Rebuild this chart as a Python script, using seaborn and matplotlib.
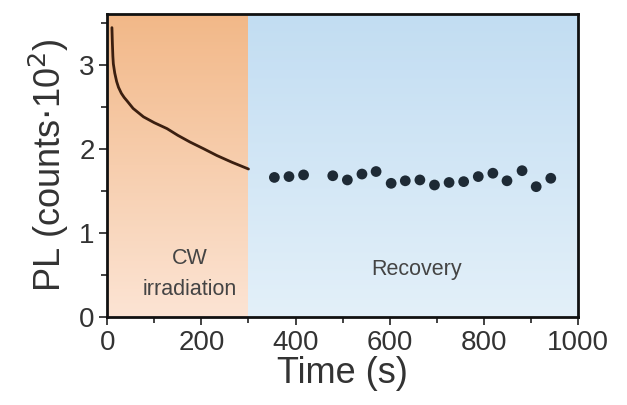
import numpy as np
import pandas as pd
import matplotlib
matplotlib.use("Agg")
import matplotlib.pyplot as plt
from matplotlib.colors import LinearSegmentedColormap
from matplotlib.ticker import MultipleLocator
import seaborn as sns

# PL decay under CW irradiation (counts / 100)
irr_time = [10, 11, 12, 13, 16, 20, 24, 30, 36, 42, 55, 77, 100, 127, 150, 176, 205, 233, 265, 300]
irr_pl = [3.44, 3.25, 3.10, 3.01, 2.90, 2.80, 2.73, 2.66, 2.61, 2.57, 2.48, 2.38, 2.31, 2.24, 2.16, 2.08, 2.00, 1.92, 1.84, 1.76]

# recovery points in the dark
rec_time = [355, 386, 417, 479, 510, 541, 571, 603, 633, 664, 695, 726, 757, 788, 819, 849, 881, 911, 942]
rec_pl = [1.66, 1.67, 1.69, 1.68, 1.63, 1.70, 1.73, 1.59, 1.62, 1.63, 1.57, 1.60, 1.61, 1.67, 1.71, 1.62, 1.74, 1.55, 1.65]

t_switch = 300
x_max = 1000
y_max = 3.6

sns.set_style("ticks")
plt.rcParams['font.family'] = ['Liberation Sans', 'DejaVu Sans']
plt.rcParams['text.color'] = '#333333'
plt.rcParams['axes.labelcolor'] = '#333333'

fig, ax = plt.subplots(figsize=(6.27, 4.05), dpi=100)
fig.subplots_adjust(left=0.171, right=0.922, top=0.965, bottom=0.217)

# gradient backgrounds for the two phases
grad = np.linspace(1, 0, 256).reshape(-1, 1)
orange = LinearSegmentedColormap.from_list("o", ["#fce4d4", "#f2b888"])
blue = LinearSegmentedColormap.from_list("b", ["#e3f0f9", "#c2ddf2"])
ax.imshow(grad, cmap=orange, aspect='auto', extent=[0, t_switch, 0, y_max], zorder=0)
ax.imshow(grad, cmap=blue, aspect='auto', extent=[t_switch, x_max, 0, y_max], zorder=0)

irr = pd.DataFrame({"time": irr_time, "pl": irr_pl})
rec = pd.DataFrame({"time": rec_time, "pl": rec_pl})
sns.lineplot(data=irr, x="time", y="pl", ax=ax, color="#3b1f10", lw=2, zorder=3)
sns.scatterplot(data=rec, x="time", y="pl", ax=ax, color="#1e2a35", s=60, edgecolor="none", zorder=3)

ax.set_xlim(0, x_max)
ax.set_ylim(0, y_max)
ax.set_xticks([0, 200, 400, 600, 800, 1000])
ax.xaxis.set_minor_locator(MultipleLocator(100))
ax.set_yticks([0, 1, 2, 3])
ax.yaxis.set_minor_locator(MultipleLocator(0.5))
ax.tick_params(which='major', length=6, width=1.3, labelsize=20, colors='#333333', direction='out', pad=3)
ax.tick_params(which='minor', length=4, width=1.3, colors='#333333', direction='out')
for s in ax.spines.values():
    s.set_linewidth(2)
    s.set_color('#111111')
    s.set_visible(True)

ax.set_xlabel("Time (s)", fontsize=26, labelpad=0)
ax.set_ylabel("PL (counts$\\cdot$10$^2$)", fontsize=26, labelpad=6)

ax.text(175, 0.70, "CW", ha='center', va='center', fontsize=15.5, color='#444444')
ax.text(175, 0.33, "irradiation", ha='center', va='center', fontsize=15.5, color='#444444')
ax.text(657, 0.56, "Recovery", ha='center', va='center', fontsize=15.5, color='#444444')

fig.savefig("out.png", dpi=100)
